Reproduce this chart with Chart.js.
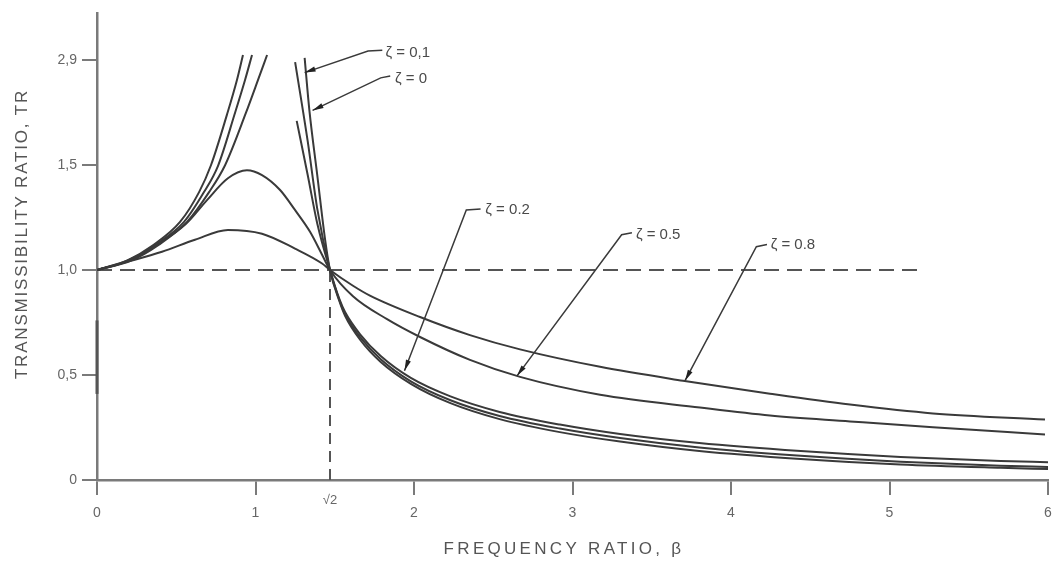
<!DOCTYPE html>
<html>
<head>
<meta charset="utf-8">
<script src="https://cdn.jsdelivr.net/npm/chart.js@4.4.0/dist/chart.umd.min.js"></script>
<style>
  html, body { margin: 0; padding: 0; background: #fff; }
</style>
</head>
<body>
<canvas id="myChart" width="1055" height="563"></canvas>
<script>
// values: frequency ratio (beta) and transmissibility ratio (TR)
// the y axis is spaced evenly, the top tick "2,9" sits where 2.0 would be
// null in a TR array = break between the branch below and above resonance

var z0Beta = [0, 0.189, 0.353, 0.524, 0.644, 0.719, 0.820, 0.883, 0.921, 1.10, 1.31, 1.34, 1.39, 1.44, 1.47, 1.53, 1.565, 1.66, 1.79, 1.98, 2.23, 2.54, 2.92, 3.30, 3.80, 4.44, 5.07, 5.70, 6.00];
var z0TR   = [1.00, 1.045, 1.118, 1.229, 1.371, 1.499, 1.74, 1.905, 2.024, null, 2.01, 1.76, 1.45, 1.14, 1.00, 0.85, 0.782, 0.668, 0.562, 0.458, 0.366, 0.29, 0.228, 0.183, 0.138, 0.10, 0.074, 0.058, 0.052];

var z01Beta = [0, 0.202, 0.372, 0.549, 0.675, 0.763, 0.871, 0.934, 0.978, 1.10, 1.25, 1.33, 1.39, 1.47, 1.53, 1.565, 1.66, 1.79, 1.98, 2.23, 2.54, 2.92, 3.30, 3.80, 4.44, 5.07, 5.70, 6.00];
var z01TR   = [1.00, 1.045, 1.121, 1.229, 1.371, 1.495, 1.749, 1.905, 2.024, null, 1.99, 1.61, 1.29, 1.00, 0.855, 0.79, 0.68, 0.575, 0.47, 0.38, 0.305, 0.245, 0.20, 0.155, 0.115, 0.087, 0.068, 0.062];

var z02Beta = [0, 0.215, 0.391, 0.568, 0.707, 0.808, 0.940, 1.016, 1.073, 1.15, 1.26, 1.33, 1.39, 1.47, 1.53, 1.565, 1.66, 1.79, 1.98, 2.23, 2.54, 2.92, 3.30, 3.80, 4.44, 5.07, 5.70, 6.00];
var z02TR   = [1.00, 1.045, 1.121, 1.229, 1.371, 1.499, 1.749, 1.905, 2.024, null, 1.71, 1.45, 1.22, 1.00, 0.86, 0.80, 0.694, 0.59, 0.486, 0.398, 0.324, 0.264, 0.219, 0.176, 0.138, 0.110, 0.091, 0.085];

var z05Beta = [0, 0.208, 0.379, 0.562, 0.694, 0.826, 0.946, 1.041, 1.155, 1.249, 1.344, 1.420, 1.47, 1.615, 1.830, 2.038, 2.353, 2.669, 3.174, 3.804, 4.246, 4.751, 5.274, 5.981];
var z05TR   = [1.00, 1.05, 1.121, 1.220, 1.333, 1.437, 1.475, 1.452, 1.381, 1.286, 1.182, 1.073, 1.00, 0.875, 0.766, 0.681, 0.572, 0.491, 0.406, 0.345, 0.307, 0.279, 0.251, 0.217];

var z08Beta = [0, 0.196, 0.41, 0.618, 0.826, 1.041, 1.249, 1.420, 1.47, 1.615, 1.722, 2.038, 2.353, 2.669, 3.174, 3.697, 4.246, 4.751, 5.274, 5.981];
var z08TR   = [1.00, 1.04, 1.087, 1.144, 1.191, 1.173, 1.102, 1.031, 1.00, 0.925, 0.878, 0.776, 0.690, 0.622, 0.539, 0.473, 0.411, 0.359, 0.317, 0.288];

// dashed guide lines
var unityBeta = [0, 5.19];
var unityTR = [1, 1];
var rootTwoBeta = [1.47, 1.47];
var rootTwoTR = [0, 1];

// darker stroke on the y axis seen in the picture
var axisMarkBeta = [0, 0];
var axisMarkTR = [0.41, 0.76];

// axis ticks
var xTicks = [0, 1, 2, 3, 4, 5, 6];
var yTicks = [0, 0.5, 1, 1.5, 2];
var yTickLabels = ['0', '0,5', '1,0', '1,5', '2,9'];

// curve labels: text, where the text starts, leader line ending at the arrow tip
var zetaLabels = ['ζ = 0,1', 'ζ = 0', 'ζ = 0.2', 'ζ = 0.5', 'ζ = 0.8'];
var labelBeta = [1.82, 1.88, 2.45, 3.40, 4.25];
var labelTR = [2.033, 1.91, 1.286, 1.168, 1.121];
var leaderBeta = [[1.80, 1.71, 1.31], [1.85, 1.79, 1.36], [2.42, 2.33, 1.94], [3.375, 3.31, 2.65], [4.227, 4.16, 3.71]];
var leaderTR = [[2.047, 2.043, 1.94], [1.924, 1.915, 1.76], [1.291, 1.286, 0.52], [1.177, 1.168, 0.496], [1.121, 1.111, 0.473]];


function pts(xs, ys) {
    var out = [];
    for (let i = 0; i < xs.length; i++) {
        out.push({ x: xs[i], y: ys[i] });
    }
    return out;
}

var lineColor = '#3a3a3a';
var axisColor = '#7a7a7a';

function curve(label, xs, ys) {
    return {
        label: label,
        data: pts(xs, ys),
        borderColor: lineColor,
        borderWidth: 2,
        pointRadius: 0,
        fill: false,
        spanGaps: false,
        cubicInterpolationMode: 'monotone'
    };
}

const annotations = {
    id: 'annotations',
    afterDatasetsDraw(chart) {
        const ctx = chart.ctx;
        const xs = chart.scales.x, ys = chart.scales.y;
        ctx.save();

        // leader lines with arrow heads
        ctx.strokeStyle = '#3a3a3a';
        ctx.fillStyle = '#222';
        ctx.lineWidth = 1.5;
        for (let i = 0; i < zetaLabels.length; i++) {
            const bx = leaderBeta[i], ty = leaderTR[i];
            ctx.beginPath();
            for (let j = 0; j < bx.length; j++) {
                const px = xs.getPixelForValue(bx[j]), py = ys.getPixelForValue(ty[j]);
                if (j == 0) ctx.moveTo(px, py); else ctx.lineTo(px, py);
            }
            ctx.stroke();
            const n = bx.length;
            const tx = xs.getPixelForValue(bx[n - 1]), tyy = ys.getPixelForValue(ty[n - 1]);
            const fx = xs.getPixelForValue(bx[n - 2]), fy = ys.getPixelForValue(ty[n - 2]);
            const a = Math.atan2(tyy - fy, tx - fx);
            ctx.beginPath();
            ctx.moveTo(tx, tyy);
            ctx.lineTo(tx - 11 * Math.cos(a) + 2.6 * Math.sin(a), tyy - 11 * Math.sin(a) - 2.6 * Math.cos(a));
            ctx.lineTo(tx - 11 * Math.cos(a) - 2.6 * Math.sin(a), tyy - 11 * Math.sin(a) + 2.6 * Math.cos(a));
            ctx.closePath();
            ctx.fill();
        }

        // labels
        ctx.fillStyle = '#4a4a4a';
        ctx.font = '15px "Liberation Sans", Arial, sans-serif';
        ctx.textAlign = 'left';
        ctx.textBaseline = 'middle';
        for (let i = 0; i < zetaLabels.length; i++) {
            ctx.fillText(zetaLabels[i], xs.getPixelForValue(labelBeta[i]), ys.getPixelForValue(labelTR[i]));
        }

        // sqrt 2 label under the dashed line
        ctx.fillStyle = '#666';
        ctx.font = '13px "Liberation Sans", Arial, sans-serif';
        ctx.textAlign = 'center';
        ctx.fillText('√2', xs.getPixelForValue(rootTwoBeta[0]), ys.bottom + 20);

        // axis titles
        ctx.fillStyle = '#555';
        ctx.font = '17px "Liberation Sans", Arial, sans-serif';
        ctx.letterSpacing = '3.3px';
        ctx.textAlign = 'center';
        ctx.fillText('FREQUENCY RATIO, β', 564, 549);
        ctx.translate(22, 234);
        ctx.rotate(-Math.PI / 2);
        ctx.letterSpacing = '1.8px';
        ctx.fillText('TRANSMISSIBILITY RATIO, TR', 0, 0);
        ctx.restore();
    }
};

let myChart = document.getElementById("myChart").getContext('2d');

const lineChart = new Chart(myChart, {
    type: "line",
    data: {
        datasets: [
            curve('ζ = 0', z0Beta, z0TR),
            curve('ζ = 0.1', z01Beta, z01TR),
            curve('ζ = 0.2', z02Beta, z02TR),
            curve('ζ = 0.5', z05Beta, z05TR),
            curve('ζ = 0.8', z08Beta, z08TR),
            {
                label: 'TR = 1',
                data: pts(unityBeta, unityTR),
                borderColor: '#555',
                borderWidth: 2,
                borderDash: [15, 8],
                pointRadius: 0,
                fill: false
            }, {
                label: 'beta = sqrt 2',
                data: pts(rootTwoBeta, rootTwoTR),
                borderColor: '#555',
                borderWidth: 2,
                borderDash: [11, 7],
                pointRadius: 0,
                fill: false
            }, {
                label: 'axis mark',
                data: pts(axisMarkBeta, axisMarkTR),
                borderColor: '#555',
                borderWidth: 3,
                pointRadius: 0,
                fill: false,
                clip: false
            }
        ]
    },
    options: {
        responsive: false,
        animation: false,
        layout: { padding: { top: 10, right: 7, left: 0, bottom: 0 } },
        scales: {
            x: {
                type: 'linear',
                min: 0,
                max: 6,
                afterBuildTicks: function (scale) {
                    scale.ticks = xTicks.map(function (v) { return { value: v }; });
                },
                afterFit: function (scale) {
                    scale.height = 83;
                    scale.paddingLeft = 0;      // keep the plot edge at beta = 6 where the picture has it
                    scale.paddingRight = 0;
                },
                grid: { drawOnChartArea: false, drawTicks: true, tickLength: 15, color: axisColor, lineWidth: 2 },
                border: { display: true, color: axisColor, width: 2.5 },
                ticks: {
                    padding: 10,
                    maxRotation: 0,
                    color: '#666',
                    font: { family: '"Liberation Sans", Arial, sans-serif', size: 14 }
                }
            },
            y: {
                min: 0,
                max: 2.222,
                afterBuildTicks: function (scale) {
                    scale.ticks = yTicks.map(function (v) { return { value: v }; });
                },
                afterFit: function (scale) { scale.width = 97; },
                grid: { drawOnChartArea: false, drawTicks: true, tickLength: 15, color: axisColor, lineWidth: 2 },
                border: { display: true, color: axisColor, width: 2.5 },
                ticks: {
                    padding: 5,
                    color: '#666',
                    font: { family: '"Liberation Sans", Arial, sans-serif', size: 14 },
                    callback: function (value) {
                        return yTickLabels[yTicks.indexOf(value)];
                    }
                }
            }
        },
        plugins: {
            legend: { display: false },
            tooltip: { enabled: false }
        }
    },
    plugins: [annotations]
});
</script>
</body>
</html>
